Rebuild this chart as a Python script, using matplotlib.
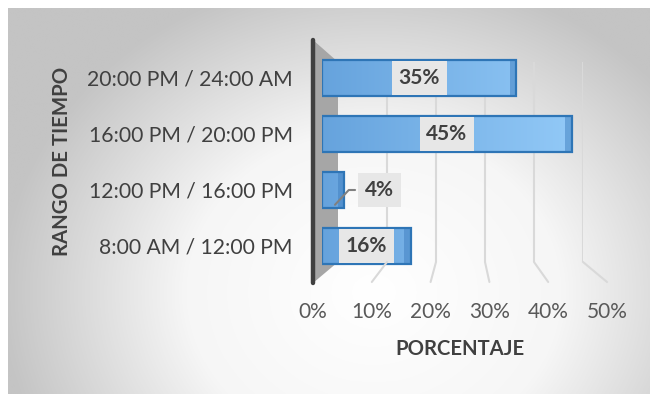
import numpy as np
import matplotlib
matplotlib.use("Agg")
import matplotlib.pyplot as plt
from matplotlib.colors import LinearSegmentedColormap
from matplotlib.patches import Polygon, ConnectionPatch

# data
CATEGORIES = ["8:00 AM / 12:00 PM", "12:00 PM / 16:00 PM",
              "16:00 PM / 20:00 PM", "20:00 PM / 24:00 AM"]
VALUES = [16, 4, 45, 35]
TICKS = [0, 10, 20, 30, 40, 50]
TICK_LABELS = ["0%", "10%", "20%", "30%", "40%", "50%"]

W, H = 650, 394
plt.rcParams["font.family"] = ["Lato", "DejaVu Sans"]


def px_rect(x0, y0, x1, y1):
    return [x0 / W, 1 - y1 / H, (x1 - x0) / W, (y1 - y0) / H]


fig = plt.figure(figsize=(W / 100, H / 100), dpi=100)

# background with radial gradient
ax_bg = fig.add_axes([0, 0, 1, 1])
ax_bg.set_xlim(0, W)
ax_bg.set_ylim(H, 0)
ax_bg.axis("off")
yy, xx = np.mgrid[0:H, 0:W]
r = np.sqrt(((xx - 370) / 380) ** 2 + ((yy - 290) / 330) ** 2)
bg_cmap = LinearSegmentedColormap.from_list("bg", ["#ffffff", "#f6f6f6", "#c4c4c4"])
ax_bg.imshow(np.clip(r, 0, 1), cmap=bg_cmap, vmin=0, vmax=1,
             extent=[8, W, H, 8], aspect="auto", zorder=0)

# side wall of the 3d chart
ax_bg.add_patch(Polygon([(313, 40), (338, 62), (338, 262), (313, 283)],
                        closed=True, fc="#a6a6a6", ec="none", zorder=1))
ax_bg.plot([313, 313], [40, 283], color="#404040", lw=3.2,
           solid_capstyle="round", zorder=2)

# back wall gridlines
ax_back = fig.add_axes(px_rect(338, 62, 583, 262))
ax_back.set_xlim(0, 50)
ax_back.set_ylim(0, 1)
ax_back.axis("off")
ax_back.vlines(TICKS[1:], 0, 1, color="#d9d9d9", lw=1.5)

# floor with tick labels
ax_floor = fig.add_axes(px_rect(313, 282, 607, 283))
ax_floor.set_xlim(0, 50)
ax_floor.set_ylim(0, 1)
ax_floor.patch.set_alpha(0)
for s in ax_floor.spines.values():
    s.set_visible(False)
ax_floor.set_yticks([])
ax_floor.set_xticks(TICKS)
ax_floor.set_xticklabels(TICK_LABELS, fontsize=15, color="#595959")
ax_floor.tick_params(axis="x", length=0, pad=14)

for t in TICKS[1:]:
    con = ConnectionPatch(xyA=(t, 0), coordsA=ax_back.transData,
                          xyB=(t, 1), coordsB=ax_floor.transData,
                          color="#d9d9d9", lw=1.5)
    fig.add_artist(con)

# bars
ax = fig.add_axes(px_rect(322, 50, 322 + 277.8, 274))
ax.patch.set_alpha(0)
ax.set_xlim(0, 50)
ax.set_ylim(-0.5, 3.5)
for s in ax.spines.values():
    s.set_visible(False)
ax.set_xticks([])

ypos = np.arange(len(CATEGORIES))
bars = ax.barh(ypos, VALUES, height=0.64, color="none",
               edgecolor="#2e75b6", linewidth=1.6, zorder=3)
bar_cmap = LinearSegmentedColormap.from_list("bar", ["#66a3dd", "#92c9f7"])
grad = np.linspace(0, 1, 256).reshape(1, -1)
for b in bars:
    x0, y0 = b.get_x(), b.get_y()
    w, h = b.get_width(), b.get_height()
    im = ax.imshow(grad * (w / 45), cmap=bar_cmap, vmin=0, vmax=1,
                   extent=[x0, x0 + w, y0, y0 + h], aspect="auto",
                   origin="lower", zorder=2)
    im.set_clip_path(b)
    # end face of the 3d bar
    ax.barh(y0 + h / 2, min(1.2, w * 0.3), left=x0 + w - min(1.2, w * 0.3),
            height=h, color="#3f7fc0", alpha=0.5, zorder=2.5)
ax.set_xlim(0, 50)
ax.set_ylim(-0.5, 3.5)

ax.set_yticks(ypos)
ax.set_yticklabels(CATEGORIES, fontsize=15.2, color="#404040")
ax.tick_params(axis="y", length=0, pad=21)

box = dict(boxstyle="square,pad=0.33", fc="#e7e7e7", ec="none")
for i, v in enumerate(VALUES):
    if v > 10:
        ax.text(v / 2, i, f"{v}%", ha="center", va="center", fontsize=15,
                fontweight="bold", color="#404040", bbox=box, zorder=5)
    else:
        ax.annotate(f"{v}%", xy=(v * 0.5, i - 0.3), xytext=(v + 6.3, i),
                    ha="center", va="center", fontsize=15, fontweight="bold",
                    color="#404040", bbox=box, zorder=5,
                    arrowprops=dict(arrowstyle="-", color="#808080", lw=1.5,
                                    connectionstyle="angle,angleA=0,angleB=47,rad=0"))

fig.text(62 / W, 1 - 161 / H, "RANGO DE TIEMPO", rotation=90, ha="center",
         va="center", fontsize=14.7, fontweight="bold", color="#404040")
fig.text(460 / W, 1 - 349 / H, "PORCENTAJE", ha="center", va="center",
         fontsize=14.6, fontweight="bold", color="#404040")

fig.savefig("out.png", dpi=100)
